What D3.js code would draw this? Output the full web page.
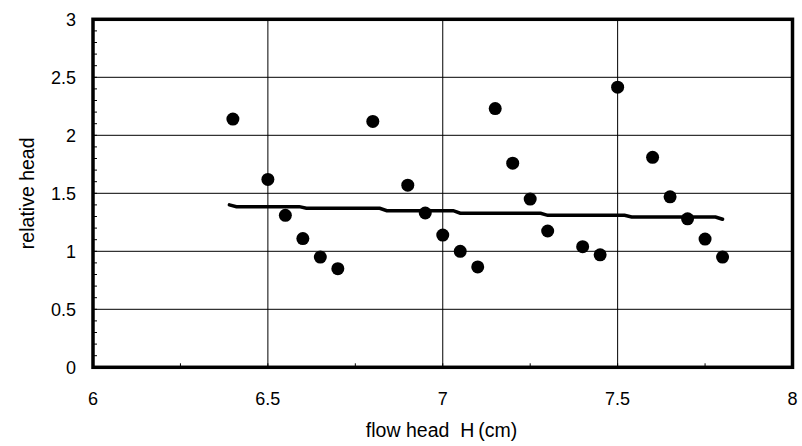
<!DOCTYPE html>
<html><head><meta charset="utf-8">
<script src="https://cdn.jsdelivr.net/npm/d3@7"></script>
<style>body{margin:0;background:#fff}svg{display:block}text{font-family:"Liberation Sans",Arial,sans-serif;fill:#000;white-space:pre}</style>
</head><body><svg id="c" width="802" height="446"></svg>
<script>
const pointX = [6.4, 6.5, 6.55, 6.6, 6.65, 6.7, 6.8, 6.9, 6.95, 7.0, 7.05, 7.1, 7.15, 7.2, 7.25, 7.3, 7.4, 7.45, 7.5, 7.6, 7.65, 7.7, 7.75, 7.8];
const pointY = [2.14, 1.62, 1.31, 1.11, 0.95, 0.85, 2.12, 1.57, 1.33, 1.14, 1.0, 0.865, 2.23, 1.76, 1.45, 1.175, 1.04, 0.97, 2.415, 1.81, 1.47, 1.28, 1.105, 0.95];
const lineX = [6.39, 6.41, 6.59, 6.61, 6.82, 6.84, 7.03, 7.05, 7.28, 7.30, 7.52, 7.54, 7.78, 7.80];
const lineY = [1.40, 1.385, 1.385, 1.371, 1.371, 1.350, 1.350, 1.328, 1.328, 1.310, 1.310, 1.296, 1.296, 1.276];
const xTicks = [6, 6.5, 7, 7.5, 8];
const yTicks = [0, 0.5, 1, 1.5, 2, 2.5, 3];
const xTitle = "flow head \u00a0H\u2009(cm)";
const yTitle = "relative head";

const svg = d3.select("#c");
const L = 93, R = 792.5, T = 19.3, B = 367.3;
const x = d3.scaleLinear().domain([6, 8]).range([L, R]);
const y = d3.scaleLinear().domain([0, 3]).range([B, T]);

const g = svg.append("g");
g.selectAll(".gx").data(xTicks.slice(1, -1)).join("line")
  .attr("x1", d => x(d)).attr("x2", d => x(d)).attr("y1", T).attr("y2", B)
  .attr("stroke", "#000").attr("stroke-width", 1);
g.selectAll(".gy").data(yTicks.slice(1, -1)).join("line")
  .attr("x1", L).attr("x2", R).attr("y1", d => y(d)).attr("y2", d => y(d))
  .attr("stroke", "#000").attr("stroke-width", 1);

const yMinor = d3.range(0, 3.0001, 0.1);
g.selectAll(".my").data(yMinor).join("line")
  .attr("x1", L).attr("x2", L + 4).attr("y1", d => y(d)).attr("y2", d => y(d))
  .attr("stroke", "#000").attr("stroke-width", 1);
const xMinor = d3.range(6, 8.0001, 0.25);
g.selectAll(".mx").data(xMinor).join("line")
  .attr("x1", d => x(d)).attr("x2", d => x(d)).attr("y1", B).attr("y2", B - 4)
  .attr("stroke", "#000").attr("stroke-width", 1);

svg.append("path").datum(lineX.map((d, i) => [d, lineY[i]]))
  .attr("d", d3.line().x(d => x(d[0])).y(d => y(d[1])))
  .attr("fill", "none").attr("stroke", "#000").attr("stroke-width", 3.5)
  .attr("stroke-linecap", "round");

svg.selectAll(".pt").data(pointX.map((d, i) => [d, pointY[i]])).join("circle")
  .attr("cx", d => x(d[0])).attr("cy", d => y(d[1])).attr("r", 6.5).attr("fill", "#000");

svg.append("rect").attr("x", L).attr("y", T).attr("width", R - L).attr("height", B - T)
  .attr("fill", "none").attr("stroke", "#000").attr("stroke-width", 3.5);

svg.selectAll(".xl").data(xTicks).join("text")
  .attr("x", d => x(d)).attr("y", 405).attr("text-anchor", "middle")
  .attr("font-size", 18).text(d => d);
svg.selectAll(".yl").data(yTicks).join("text")
  .attr("x", 76).attr("y", d => y(d) + 6.5).attr("text-anchor", "end")
  .attr("font-size", 18).text(d => d);

svg.append("text").attr("x", 441.5).attr("y", 436.5).attr("text-anchor", "middle")
  .attr("font-size", 19.5).text(xTitle);
svg.append("text").attr("transform", "translate(34," + ((T + B) / 2) + ") rotate(-90)")
  .attr("text-anchor", "middle").attr("font-size", 19.5).text(yTitle);
</script></body></html>
